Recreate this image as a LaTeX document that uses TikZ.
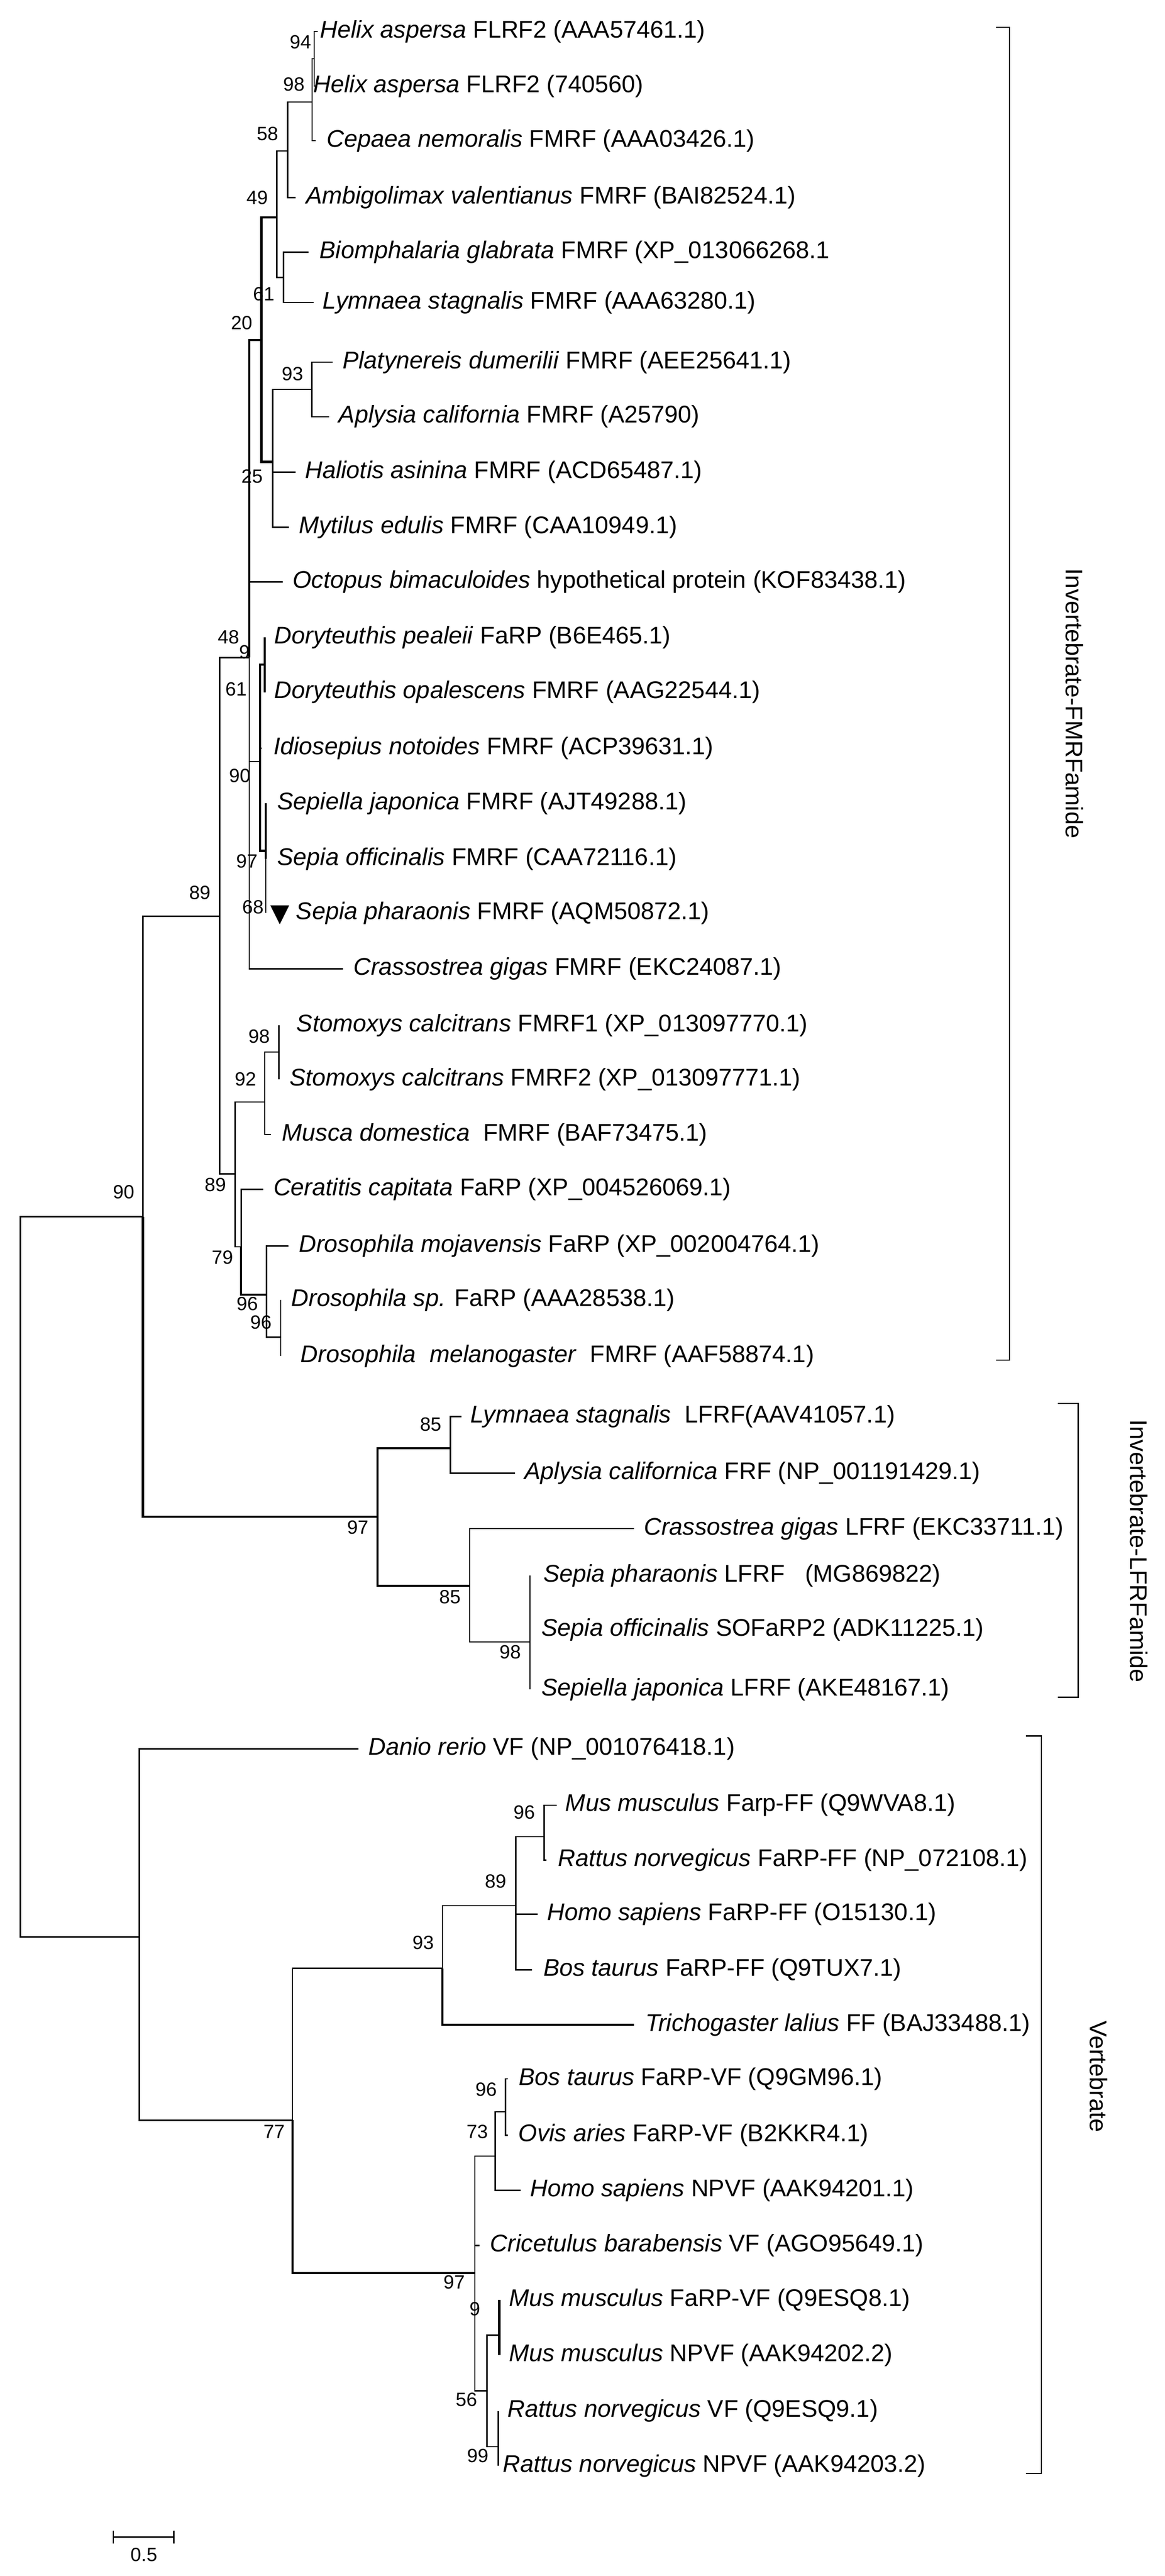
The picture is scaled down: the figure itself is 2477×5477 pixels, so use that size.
\documentclass[tikz,border=0pt]{standalone}
\usepackage{fontspec}
\setmainfont{Liberation Sans}
\newcommand\leaffont{\fontsize{14.6}{17}\selectfont}
\newcommand\bsfont{\fontsize{11.6}{13}\selectfont}
\newcommand\leafat[5]{\coordinate (#1) at (#2,#4); \node[leaf] (#1t) at (#3,#4) {#5};}
\newcommand\bsat[3]{\node[bs] (#1) at (#2) {#3};}
\begin{document}
\begin{tikzpicture}[x=0.01cm,y=-0.01cm,
  leaf/.style={anchor=west,inner sep=0pt,font=\leaffont},
  bs/.style={inner sep=0pt,font=\bsfont},
  grp/.style={inner sep=0pt,font=\leaffont,rotate=-90},
  br/.style={line width=0.8pt},
  thk/.style={line width=1.3pt}]
\useasboundingbox (0,0) rectangle (2477,5477);
% ---- Invertebrate FMRFamide leaves
\leafat{L1}{676}{680}{67}{\textit{Helix aspersa} FLRF2 (AAA57461.1)}
\leafat{L2}{672}{666}{183}{\textit{Helix aspersa} FLRF2 (740560)}
\leafat{L3}{672}{694}{299}{\textit{Cepaea nemoralis} FMRF (AAA03426.1)}
\leafat{L4}{629}{650}{420}{\textit{Ambigolimax valentianus} FMRF (BAI82524.1)}
\leafat{L5}{656}{679}{536}{\textit{Biomphalaria glabrata} FMRF (XP\_013066268.1}
\leafat{L6}{667}{686}{643}{\textit{Lymnaea stagnalis} FMRF (AAA63280.1)}
\leafat{L7}{708}{728}{770}{\textit{Platynereis dumerilii} FMRF (AEE25641.1)}
\leafat{L8}{700}{720}{886}{\textit{Aplysia california} FMRF (A25790)}
\leafat{L9}{629}{648}{1004}{\textit{Haliotis asinina} FMRF (ACD65487.1)}
\leafat{L10}{615}{635}{1121}{\textit{Mytilus edulis} FMRF (CAA10949.1)}
\leafat{L11}{601}{622}{1237}{\textit{Octopus bimaculoides} hypothetical protein (KOF83438.1)}
\leafat{L12}{563}{583}{1355}{\textit{Doryteuthis pealeii} FaRP (B6E465.1)}
\leafat{L13}{563}{583}{1472}{\textit{Doryteuthis opalescens} FMRF (AAG22544.1)}
\leafat{L14}{557}{581}{1591}{\textit{Idiosepius notoides} FMRF (ACP39631.1)}
\leafat{L15}{565}{589}{1708}{\textit{Sepiella japonica} FMRF (AJT49288.1)}
\leafat{L16}{565}{589}{1826}{\textit{Sepia officinalis} FMRF (CAA72116.1)}
\leafat{L17}{565}{629}{1941}{\textit{Sepia pharaonis} FMRF (AQM50872.1)}
\leafat{L18}{729}{751}{2060}{\textit{Crassostrea gigas} FMRF (EKC24087.1)}
\leafat{L19}{593}{630}{2180}{\textit{Stomoxys calcitrans} FMRF1 (XP\_013097770.1)}
\leafat{L20}{593}{615}{2295}{\textit{Stomoxys calcitrans} FMRF2 (XP\_013097771.1)}
\leafat{L21}{576}{599}{2412}{\textit{Musca domestica}\ \ FMRF (BAF73475.1)}
\leafat{L22}{560}{581}{2529}{\textit{Ceratitis capitata} FaRP (XP\_004526069.1)}
\leafat{L23}{613}{635}{2649}{\textit{Drosophila mojavensis} FaRP (XP\_002004764.1)}
\leafat{L24}{597}{619}{2764}{\textit{Drosophila sp.} FaRP (AAA28538.1)}
\leafat{L25}{597}{639}{2883}{\textit{Drosophila\ \ melanogaster}\ \ FMRF (AAF58874.1)}
\fill (575,1925) -- (615,1925) -- (595,1965) -- cycle;
% ---- LFRF leaves
\leafat{M1}{981}{1000}{3012}{\textit{Lymnaea stagnalis}\ \ LFRF(AAV41057.1)}
\leafat{M2}{1095}{1115}{3132}{\textit{Aplysia californica} FRF (NP\_001191429.1)}
\leafat{M3}{1348}{1369}{3250}{\textit{Crassostrea gigas} LFRF (EKC33711.1)}
\leafat{M4}{1127}{1155}{3350}{\textit{Sepia pharaonis} LFRF\ \ \ (MG869822)}
\leafat{M5}{1127}{1151}{3465}{\textit{Sepia officinalis} SOFaRP2 (ADK11225.1)}
\leafat{M6}{1127}{1151}{3592}{\textit{Sepiella japonica} LFRF (AKE48167.1)}
% ---- Vertebrate leaves
\leafat{V1}{762}{783}{3718}{\textit{Danio rerio} VF (NP\_001076418.1)}
\leafat{V2}{1184}{1202}{3838}{\textit{Mus musculus} Farp-FF (Q9WVA8.1)}
\leafat{V3}{1162}{1186}{3955}{\textit{Rattus norvegicus} FaRP-FF (NP\_072108.1)}
\leafat{V4}{1144}{1163}{4070}{\textit{Homo sapiens} FaRP-FF (O15130.1)}
\leafat{V5}{1132}{1155}{4188}{\textit{Bos taurus} FaRP-FF (Q9TUX7.1)}
\leafat{V6}{1348}{1372}{4305}{\textit{Trichogaster lalius} FF (BAJ33488.1)}
\leafat{V7}{1080}{1103}{4420}{\textit{Bos taurus} FaRP-VF (Q9GM96.1)}
\leafat{V8}{1080}{1102}{4540}{\textit{Ovis aries} FaRP-VF (B2KKR4.1)}
\leafat{V9}{1107}{1127}{4657}{\textit{Homo sapiens} NPVF (AAK94201.1)}
\leafat{V10}{1020}{1042}{4774}{\textit{Cricetulus barabensis} VF (AGO95649.1)}
\leafat{V11}{1062}{1082}{4890}{\textit{Mus musculus} FaRP-VF (Q9ESQ8.1)}
\leafat{V12}{1062}{1082}{5007}{\textit{Mus musculus} NPVF (AAK94202.2)}
\leafat{V13}{1060}{1079}{5126}{\textit{Rattus norvegicus} VF (Q9ESQ9.1)}
\leafat{V14}{1060}{1069}{5243}{\textit{Rattus norvegicus} NPVF (AAK94203.2)}
% ---- internal nodes
\coordinate (n94) at (668,125);
\coordinate (n98) at (664,217);
\coordinate (n58) at (612,321);
\coordinate (nBL) at (603,590);
\coordinate (n49) at (589,462);
\coordinate (nPA) at (663,828);
\coordinate (n25) at (580,982);
\coordinate (n20) at (556,723);
\coordinate (nDD) at (563,1413);
\coordinate (nSep) at (565,1809);
\coordinate (n90c) at (553,1619);
\coordinate (n48) at (530,1398);
\coordinate (nSS) at (593,2237);
\coordinate (n92) at (563,2343);
\coordinate (nDS) at (597,2843);
\coordinate (n96a) at (567,2753);
\coordinate (n79) at (513,2651);
\coordinate (n89i) at (500,2496);
\coordinate (n89) at (467,1948);
\coordinate (n85a) at (958,3079);
\coordinate (n98L) at (1127,3491);
\coordinate (n85b) at (999,3372);
\coordinate (n97L) at (803,3225);
\coordinate (n90u) at (304,2587);
\coordinate (n96f) at (1157,3905);
\coordinate (n89f) at (1097,4052);
\coordinate (n93) at (941,4185);
\coordinate (n96v) at (1075,4490);
\coordinate (n73) at (1053,4584);
\coordinate (nMus) at (1062,4965);
\coordinate (nRat) at (1060,5202);
\coordinate (n56) at (1036,5083);
\coordinate (n97v) at (1010,4833);
\coordinate (n77) at (622,4508);
\coordinate (nVert) at (296,4118);
\coordinate (root) at (43,3350);
% ---- branches
\begin{scope}[br]
\draw (n94) |- (L1); \draw (n94) |- (L2);
\draw (n98) |- (n94); \draw (n98) |- (L3);
\draw (n58) |- (n98); \draw (n58) |- (L4);
\draw (nBL) |- (L5); \draw (nBL) |- (L6);
\draw (n49) |- (n58); \draw (n49) |- (nBL);
\draw (nPA) |- (L7); \draw (nPA) |- (L8);
\draw (n25) |- (nPA); \draw (n25) |- (L9); \draw (n25) |- (L10);
\draw[thk] (n20) |- (n49); \draw[thk] (n20) |- (n25);
\draw[thk] (nDD) |- (L12); \draw[thk] (nDD) |- (L13);
\draw[thk] (nSep) |- (L15); \draw[thk] (nSep) |- (L16); \draw (nSep) |- (L17);
\draw[thk] (n90c) |- (nDD); \draw (n90c) |- (L14); \draw[thk] (n90c) |- (nSep);
\draw[thk] (n48) |- (n20); \draw (n48) |- (L11); \draw (n48) |- (n90c); \draw (n48) |- (L18);
\draw (nSS) |- (L19); \draw (nSS) |- (L20);
\draw (n92) |- (nSS); \draw (n92) |- (L21);
\draw (nDS) |- (L24); \draw (nDS) |- (L25);
\draw (n96a) |- (L23); \draw (n96a) |- (nDS);
\draw (n79) |- (L22); \draw[thk] (n79) |- (n96a);
\draw (n89i) |- (n92); \draw (n89i) |- (n79);
\draw (n89) |- (n48); \draw (n89) |- (n89i);
\draw (n85a) |- (M1); \draw (n85a) |- (M2);
\draw (n98L) |- (M4); \draw (n98L) |- (M5); \draw (n98L) |- (M6);
\draw (n85b) |- (M3); \draw (n85b) |- (n98L);
\draw[thk] (n97L) |- (n85a); \draw[thk] (n97L) |- (n85b);
\draw (n90u) |- (n89); \draw[thk] (n90u) |- (n97L);
\draw (n96f) |- (V2); \draw (n96f) |- (V3);
\draw (n89f) |- (n96f); \draw (n89f) |- (V4); \draw (n89f) |- (V5);
\draw (n93) |- (n89f); \draw[thk] (n93) |- (V6);
\draw (n96v) |- (V7); \draw (n96v) |- (V8);
\draw (n73) |- (n96v); \draw (n73) |- (V9);
\draw[thk] (nMus) |- (V11); \draw[thk] (nMus) |- (V12);
\draw (nRat) |- (V13); \draw (nRat) |- (V14);
\draw (n56) |- (nMus); \draw (n56) |- (nRat);
\draw (n97v) |- (n73); \draw (n97v) |- (V10); \draw (n97v) |- (n56);
\draw (n77) |- (n93); \draw[thk] (n77) |- (n97v);
\draw (nVert) |- (V1); \draw (nVert) |- (n77);
\draw (root) |- (n90u); \draw (root) |- (nVert);
\end{scope}
% ---- bootstrap values
\bsat{b1}{639,89}{94} \bsat{b2}{625,179}{98} \bsat{b3}{569,284}{58}
\bsat{b4}{547,420}{49} \bsat{b5}{561,625}{61} \bsat{b6}{514,686}{20}
\bsat{b7}{622,795}{93} \bsat{b8}{536,1013}{25} \bsat{b9}{486,1355}{48}
\bsat{b10}{520,1386}{9} \bsat{b11}{502,1465}{61} \bsat{b12}{510,1649}{90}
\bsat{b13}{525,1831}{97} \bsat{b14}{538,1929}{68} \bsat{b15}{425,1898}{89}
\bsat{b16}{551,2204}{98} \bsat{b17}{522,2295}{92} \bsat{b18}{458,2519}{89}
\bsat{b19}{473,2674}{79} \bsat{b20}{526,2772}{96} \bsat{b21}{555,2812}{96}
\bsat{b22}{263,2534}{90} \bsat{b23}{916,3028}{85} \bsat{b24}{761,3248}{97}
\bsat{b25}{957,3395}{85} \bsat{b26}{1085,3513}{98} \bsat{b27}{1115,3853}{96}
\bsat{b28}{1054,4000}{89} \bsat{b29}{900,4130}{93} \bsat{b30}{583,4532}{77}
\bsat{b31}{1034,4443}{96} \bsat{b32}{1015,4532}{73} \bsat{b33}{966,4852}{97}
\bsat{b34}{1010,4909}{9} \bsat{b35}{992,5102}{56} \bsat{b36}{1016,5221}{99}
% ---- group brackets
\coordinate (g1a) at (2119,58); \coordinate (g1b) at (2119,2892);
\coordinate (g2a) at (2250,2984); \coordinate (g2b) at (2250,3609);
\coordinate (g3a) at (2182,3691); \coordinate (g3b) at (2182,5259);
\draw[br] (g1a) -- ++(28,0) -- ++(0,2834) -- (g1b);
\draw[br] (g2a) -- ++(43,0) -- ++(0,625) -- (g2b);
\draw[br] (g3a) -- ++(33,0) -- ++(0,1568) -- (g3b);
\node[grp] (G1) at (2285,1496) {Invertebrate-FMRFamide};
\node[grp] (G2) at (2422,3298) {Invertebrate-LFRFamide};
\node[grp] (G3) at (2337,4415) {Vertebrate};
% ---- scale bar
\coordinate (s1) at (241,5394); \coordinate (s2) at (370,5394);
\draw[br] (s1) -- (s2);
\draw[br] (s1) ++(0,-14) -- ++(0,28);
\draw[br] (s2) ++(0,-14) -- ++(0,28);
\node[bs] (sl) at (306,5432) {0.5};
\end{tikzpicture}
\end{document}
